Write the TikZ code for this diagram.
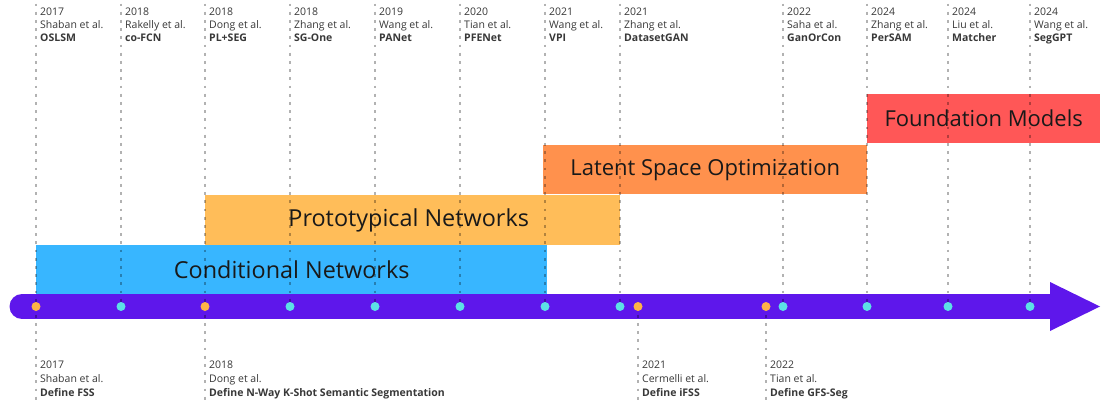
\documentclass[tikz,border=0pt]{standalone}
\usepackage{fontspec}
\setmainfont{Open Sans}
\definecolor{axpurple}{HTML}{5E17EB}
\definecolor{dotcyan}{HTML}{5CE1E6}
\definecolor{dotorange}{HTML}{FFB347}
\definecolor{barblue}{HTML}{38B6FF}
\definecolor{barproto}{HTML}{FFBD59}
\definecolor{barlatent}{HTML}{FF914D}
\definecolor{barfound}{HTML}{FF5757}
\begin{document}
\begin{tikzpicture}[x=1pt,y=-1pt,
  bar/.style={draw=none, inner sep=0, anchor=north west},
  barlabel/.style={inner sep=0, font=\fontsize{22}{26}\selectfont, text=black!90},
  bigbarlabel/.style={inner sep=0, font=\fontsize{23.4}{28}\selectfont, text=black!90},
  vline/.style={line width=2.8pt, black, opacity=0.3, dash pattern=on 2.8pt off 5.4pt},
  cdot/.style={circle, fill=dotcyan, minimum size=9pt, inner sep=0},
  odot/.style={circle, fill=dotorange, minimum size=9pt, inner sep=0},
  toplab/.style={anchor=north west, inner sep=0, align=left, font=\fontsize{10.5}{13}\selectfont, text=black!78},
  botlab/.style={anchor=north west, inner sep=0, align=left, font=\fontsize{10.5}{14.3}\selectfont, text=black!78},
  axis/.style={axpurple, line width=25pt, line cap=round},
  ]
\useasboundingbox (0,0) rectangle (1108,405);
% bars
\node[bar, fill=barblue, minimum width=511pt, minimum height=50pt] (cond) at (36,244.5) {};
\node[bar, fill=barproto, minimum width=415pt, minimum height=49.5pt] (proto) at (205,195) {};
\node[bar, fill=barlatent, minimum width=324pt, minimum height=49pt] (latent) at (543,145) {};
\node[bar, fill=barfound, minimum width=233pt, minimum height=49pt] (found) at (867,94) {};
\node[bigbarlabel] (condl) at (cond.center) {Conditional Networks};
\node[bigbarlabel, xshift=-4pt] (protol) at (proto.center) {Prototypical Networks};
\node[barlabel] (latentl) at (latent.center) {Latent Space Optimization};
\node[barlabel] (foundl) at (found.center) {Foundation Models};
% axis
\coordinate (axs) at (22,306.5);
\coordinate (axe) at (1051,306.5);
\draw[axis] (axs) -- (axe);
\fill[axpurple] (1050,282) -- (1100,306.5) -- (1050,331) -- cycle;
% top events
\foreach \i/\x/\yr/\au/\nm in {1/36/2017/Shaban et al./OSLSM, 2/121/2018/Rakelly et al./co-FCN, 3/205/2018/Dong et al./PL+SEG, 4/290/2018/Zhang et al./SG-One, 5/375/2019/Wang et al./PANet, 6/460/2020/Tian et al./PFENet, 7/545/2021/Wang et al./VPI, 8/620/2021/Zhang et al./DatasetGAN, 9/783/2022/Saha et al./GanOrCon, 10/867/2024/Zhang et al./PerSAM, 11/948/2024/Liu et al./Matcher, 12/1030/2024/Wang et al./SegGPT}{
  \coordinate (t\i) at (\x,3.5);
  \coordinate (d\i) at (\x,306.5);
  \draw[vline] (t\i) -- (d\i);
  \node[toplab] (l\i) at (\x+4,8) {\yr\\\au\\\textbf{\nm}};
}
% bottom events
\foreach \i/\x/\yr/\au/\nm in {1/36/2017/Shaban et al./Define FSS, 2/205/2018/Dong et al./Define N-Way K-Shot Semantic Segmentation, 3/638/2021/Cermelli et al./Define iFSS, 4/766/2022/Tian et al./Define GFS-Seg}{
  \coordinate (b\i) at (\x,401);
  \coordinate (e\i) at (\x,306.5);
  \draw[vline] (e\i) -- (b\i);
  \node[botlab] (m\i) at (\x+4,360.3) {\yr\\\au\\\textbf{\nm}};
}
% dots
\foreach \i in {2,4,5,6,7,8,9,10,11,12}{\node[cdot] (cd\i) at (d\i) {};}
\foreach \i in {1,2,3,4}{\node[odot] (od\i) at (e\i) {};}
\end{tikzpicture}
\end{document}
